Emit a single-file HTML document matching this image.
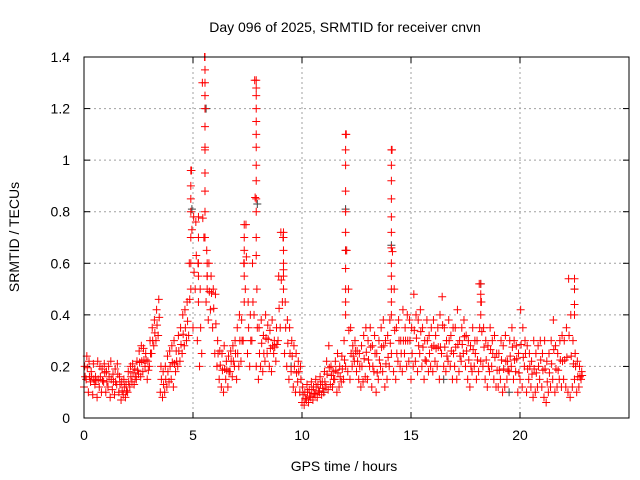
<!DOCTYPE html>
<html><head><meta charset="utf-8"><style>
html,body{margin:0;padding:0;background:#fff;}
svg{display:block;font-family:"Liberation Sans",sans-serif;}
</style></head><body>
<svg id="chart" width="640" height="480">
<rect width="640" height="480" fill="#fff"/>
<text x="345" y="32" font-size="14" text-anchor="middle" fill="#000">Day 096 of 2025, SRMTID for receiver cnvn</text>
<text x="344" y="471" font-size="14" text-anchor="middle" fill="#000">GPS time / hours</text>
<text x="19" y="237" font-size="14" text-anchor="middle" fill="#000" transform="rotate(-90 19 237)">SRMTID / TECUs</text>
<g id="grid"></g><g id="ticks"></g><g id="marks"></g>
<rect x="84" y="57" width="545" height="361" fill="none" stroke="#000" stroke-width="1"/>
</svg>
<script>
const xTicks=[0,5,10,15,20];
const yTicks=[0,0.2,0.4,0.6,0.8,1,1.2,1.4];
const yTickLabels=["0","0.2","0.4","0.6","0.8","1","1.2","1.4"];
const timeStep=0.1;
const lowValues=[.12,.15,.1,.14,.09,.13,.08,.12,.1,.14,
.1,.12,.08,.11,.09,.13,.1,.07,.09,.08,
.1,.12,.14,.13,.15,.17,.16,.18,.2,.15,
.2,.25,.28,.3,.32,.1,.08,.1,.12,.14,
.15,.12,.18,.2,.22,.25,.28,.3,.32,.5,
.35,.5,.3,.2,.25,.7,.45,.38,.42,.35,
.25,.2,.15,.12,.1,.15,.12,.18,.16,.2,
.15,.2,.22,.3,.5,.25,.2,.3,.4,.2,
.15,.2,.18,.22,.25,.2,.18,.25,.22,.3,
.35,.45,.25,.2,.15,.18,.12,.1,.14,.1,
.06,.05,.07,.06,.08,.07,.09,.08,.1,.09,
.1,.12,.11,.13,.12,.15,.1,.12,.14,.15,
.2,.18,.15,.2,.22,.18,.15,.12,.14,.16,
.15,.2,.12,.18,.1,.15,.2,.18,.12,.15,
.2,.25,.18,.15,.22,.2,.18,.25,.2,.22,
.15,.2,.22,.18,.25,.2,.15,.22,.18,.2,
.18,.22,.2,.15,.25,.2,.18,.22,.2,.15,
.2,.15,.18,.22,.25,.2,.15,.12,.18,.2,
.15,.18,.22,.2,.15,.12,.18,.2,.15,.12,
.12,.15,.1,.12,.15,.18,.2,.15,.18,.1,
.15,.12,.2,.1,.15,.12,.08,.1,.12,.15,
.12,.08,.06,.1,.12,.15,.1,.12,.15,.12,
.15,.12,.1,.08,.12,.15,.1,.12,.15];
const highValues=[.2,.24,.22,.18,.21,.16,.22,.2,.19,.21,
.18,.2,.22,.17,.19,.21,.16,.14,.15,.13,
.18,.2,.21,.19,.22,.26,.28,.27,.25,.22,
.3,.35,.38,.42,.46,.2,.18,.2,.24,.26,
.28,.3,.26,.32,.35,.4,.42,.45,.6,.96,
.78,.76,.6,.5,1.3,1.4,.65,.6,.55,.5,
.48,.3,.26,.25,.28,.22,.24,.26,.28,.3,
.35,.4,.38,.6,.75,.45,.4,.6,1.31,.5,
.35,.38,.32,.4,.36,.34,.38,.3,.35,.55,
.72,.7,.45,.38,.35,.3,.28,.25,.22,.2,
.12,.1,.13,.11,.14,.12,.15,.13,.16,.14,
.18,.22,.28,.2,.18,.22,.25,.2,.24,.3,
1.1,.5,.35,.28,.3,.26,.25,.28,.32,.35,
.3,.35,.28,.32,.25,.3,.35,.38,.3,.32,
.38,1.04,.5,.35,.38,.3,.42,.35,.4,.38,
.35,.48,.4,.38,.42,.35,.3,.38,.32,.35,
.38,.32,.35,.4,.47,.35,.3,.38,.32,.35,
.35,.42,.3,.35,.38,.32,.3,.28,.35,.3,
.3,.52,.45,.35,.3,.28,.35,.3,.32,.25,
.25,.3,.28,.32,.22,.3,.35,.3,.28,.25,
.42,.35,.3,.28,.25,.22,.3,.25,.28,.3,
.25,.3,.22,.25,.3,.38,.28,.25,.3,.32,
.3,.35,.54,.4,.3,.25,.22,.2,.18];
const spikeHours=[4.9,4.9,4.9,4.9,4.9,4.9,5.25,5.25,5.25,5.25,
5.55,5.55,5.55,5.55,5.55,5.55,5.55,5.55,5.55,5.55,5.55,5.65,5.65,5.65,
7.35,7.35,7.35,7.35,7.35,
7.9,7.9,7.9,7.9,7.9,7.9,7.9,7.9,7.9,7.9,7.9,7.9,7.9,
9.15,9.15,9.15,9.15,9.15,9.15,
12.0,12.0,12.0,12.0,12.0,12.0,12.0,12.0,12.0,12.0,12.0,
14.1,14.1,14.1,14.1,14.1,14.1,14.1,14.1,14.1,14.1,14.1,14.1,
18.2,18.2,18.2,18.2,22.5,22.5,22.5,22.5];
const spikeValues=[.96,.9,.85,.8,.7,.6,.78,.7,.6,.55,
1.4,1.35,1.3,1.25,1.2,1.13,1.04,.95,.88,.8,.7,.6,.55,.5,
.75,.7,.65,.6,.55,
1.31,1.28,1.25,1.2,1.15,1.1,1.05,.98,.92,.85,.8,.7,.63,
.72,.7,.65,.6,.55,.5,
1.1,1.04,.98,.88,.8,.72,.65,.58,.5,.45,.4,
1.04,.98,.92,.85,.78,.72,.66,.6,.55,.5,.45,.4,
.52,.48,.45,.4,.54,.5,.44,.4];
const grayHours=[5.6,4.95,7.95,12.0,12.0,14.1,18.2,22.5,11.0,16.5,19.5,9.5];
const grayValues=[1.2,.81,.83,.81,.65,.67,.52,.5,.1,.15,.1,.2];

const X0=84,X1=629,Y0=418,Y1=57;
const xs=h=>X0+h*(X1-X0)/25;
const ys=v=>Y0-v*(Y0-Y1)/1.4;
const NS="http://www.w3.org/2000/svg";
function mk(tag,attrs,parent){const e=document.createElementNS(NS,tag);for(const k in attrs)e.setAttribute(k,attrs[k]);parent.appendChild(e);return e;}
const grid=document.getElementById('grid'),ticks=document.getElementById('ticks'),marks=document.getElementById('marks');
xTicks.forEach(t=>{const x=xs(t);
 if(t>0){const g=mk('line',{x1:x,x2:x,y1:Y1,y2:Y0,stroke:'#a0a0a0','stroke-dasharray':'2,3'},grid);
 
 }
 mk('line',{x1:x,x2:x,y1:Y0,y2:Y0-6,stroke:'#000'},ticks);
 mk('line',{x1:x,x2:x,y1:Y1,y2:Y1+6,stroke:'#000'},ticks);
 const l=mk('text',{x:x,y:Y0+22,'font-size':14,'text-anchor':'middle'},ticks);l.textContent=t;
 
 });
yTicks.forEach((t,i)=>{const y=ys(t);
 if(t>0&&t<1.4){const g=mk('line',{x1:X0,x2:X1,y1:y,y2:y,stroke:'#a0a0a0','stroke-dasharray':'2,3'},grid);
 
 }
 mk('line',{x1:X0,x2:X0+6,y1:y,y2:y,stroke:'#000'},ticks);
 mk('line',{x1:X1,x2:X1-6,y1:y,y2:y,stroke:'#000'},ticks);
 const l=mk('text',{x:X0-14,y:y+5,'font-size':14,'text-anchor':'end'},ticks);l.textContent=yTickLabels[i];
 
 });
function plus(h,v,color,name){const x=xs(h),y=ys(v);
 const p=mk('path',{d:`M${x-4},${y}H${x+4}M${x},${y-4}V${y+4}`,stroke:color,'stroke-width':1,fill:'none'},marks);
 
 }
grayHours.forEach((h,i)=>plus(h,grayValues[i],'#404040','gray-point'));
lowValues.forEach((v,i)=>plus(i*timeStep,v,'#ff0000','srmtid-point'));
lowValues.forEach((v,i)=>plus(i*timeStep+0.05,(v+highValues[i])/2,'#ff0000','srmtid-point'));
highValues.forEach((v,i)=>plus(i*timeStep+0.03,v,'#ff0000','srmtid-point'));
spikeHours.forEach((h,i)=>plus(h,spikeValues[i],'#ff0000','srmtid-spike-point'));
</script>
</body></html>
